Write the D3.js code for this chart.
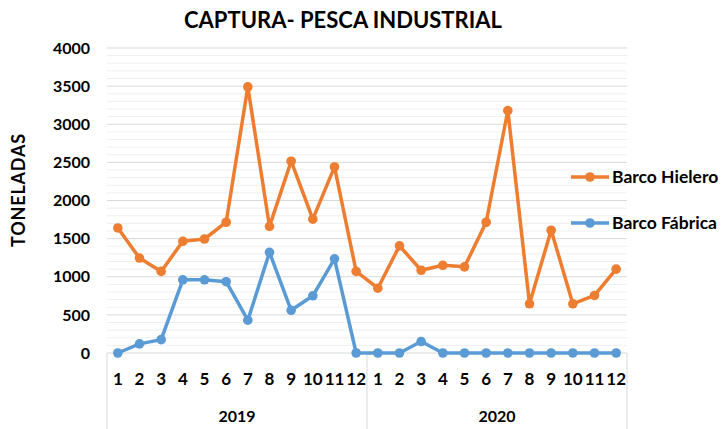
<!DOCTYPE html>
<html><head><meta charset="utf-8">
<script src="https://cdn.jsdelivr.net/npm/d3@7"></script>
<style>body{margin:0;background:#fff}svg{display:block}text{font-family:Lato,"Open Sans",sans-serif}</style>
</head><body><svg id="c" width="725" height="429"></svg>
<script>
const years = ["2019", "2020"];
const months = ["1","2","3","4","5","6","7","8","9","10","11","12"];
const hielero = [1640,1245,1070,1465,1495,1715,3490,1660,2515,1755,2440,1070,
                 850,1405,1085,1150,1130,1715,3180,645,1610,645,755,1100];
const fabrica = [0,120,175,960,960,935,430,1320,560,750,1235,0,
                 0,0,150,0,0,0,0,0,0,0,0,0];
const yTicks = [0,500,1000,1500,2000,2500,3000,3500,4000];

const svg = d3.select("#c");
const L = 107, R = 627, T = 48, B = 353;
const cats = [];
years.forEach(y => months.forEach(m => cats.push(y + "-" + m)));
const x = d3.scaleBand().domain(cats).range([L, R]);
const y = d3.scaleLinear().domain([0, 4000]).range([B, T]);

// minor gridlines
svg.append("g").selectAll("line").data(d3.range(0, 4001, 100).filter(v => v % 500 !== 0))
  .join("line").attr("x1", L).attr("x2", R).attr("y1", d => y(d)).attr("y2", d => y(d))
  .attr("stroke", "#efefef").attr("stroke-width", 1);
// major gridlines
svg.append("g").selectAll("line").data(yTicks.slice(1))
  .join("line").attr("x1", L).attr("x2", R).attr("y1", d => y(d)).attr("y2", d => y(d))
  .attr("stroke", "#d9d9d9").attr("stroke-width", 1);

// y axis
const ya = svg.append("g").attr("transform", `translate(${L},0)`)
  .call(d3.axisLeft(y).tickValues(yTicks).tickSize(0).tickPadding(17).tickFormat(d3.format("d")));
ya.select(".domain").remove();
ya.selectAll("text").attr("font-size", 16).attr("font-weight", "bold").attr("fill", "#000")
  .style("font-family", "Lato, sans-serif");

// x axis line and category separators
svg.append("line").attr("x1", L).attr("x2", R).attr("y1", B).attr("y2", B)
  .attr("stroke", "#d9d9d9");
const sepX = [L, x(years[1] + "-1"), R];
svg.append("g").selectAll("line").data(sepX).join("line")
  .attr("x1", d => d).attr("x2", d => d).attr("y1", B).attr("y2", 429)
  .attr("stroke", "#d9d9d9");

// month labels
const xa = svg.append("g").attr("transform", `translate(0,${B})`)
  .call(d3.axisBottom(x).tickSize(0).tickPadding(20).tickFormat(d => d.split("-")[1]));
xa.select(".domain").remove();
xa.selectAll("text").attr("font-size", 17).attr("font-weight", "bold").attr("fill", "#000")
  .style("font-family", "Lato, sans-serif");

// year labels
svg.append("g").selectAll("text").data(years).join("text")
  .attr("x", (d, i) => (sepX[i] + sepX[i + 1]) / 2).attr("y", 422)
  .attr("text-anchor", "middle").attr("font-size", 16).attr("font-weight", "bold")
  .text(d => d);

// series
const series = [
  {name: "Barco Hielero", values: hielero, color: "#ED7D31", ly: 177},
  {name: "Barco Fábrica", values: fabrica, color: "#5B9BD5", ly: 223}
];
const line = d3.line().x((d, i) => x(cats[i]) + x.bandwidth() / 2).y(d => y(d));
series.forEach(s => {
  svg.append("path").datum(s.values).attr("d", line).attr("fill", "none")
    .attr("stroke", s.color).attr("stroke-width", 3.5).attr("stroke-linejoin", "round");
  svg.append("g").selectAll("circle").data(s.values).join("circle")
    .attr("cx", (d, i) => x(cats[i]) + x.bandwidth() / 2).attr("cy", d => y(d))
    .attr("r", 4.8).attr("fill", s.color);
  // legend
  svg.append("line").attr("x1", 571).attr("x2", 609).attr("y1", s.ly).attr("y2", s.ly)
    .attr("stroke", s.color).attr("stroke-width", 3.5);
  svg.append("circle").attr("cx", 590).attr("cy", s.ly).attr("r", 4.8).attr("fill", s.color);
  svg.append("text").attr("x", 612).attr("y", s.ly + 6).attr("font-size", 17.5)
    .attr("font-weight", "bold").attr("fill", "#000").text(s.name);
});

// title
svg.append("text").attr("x", 343).attr("y", 28).attr("text-anchor", "middle")
  .attr("font-size", 22).attr("font-weight", "bold").text("CAPTURA- PESCA INDUSTRIAL");

// y title
svg.append("text").attr("transform", "translate(25,190) rotate(-90)")
  .attr("text-anchor", "middle").attr("font-size", 18).attr("font-weight", "bold")
  .attr("letter-spacing", 0.8).text("TONELADAS");
</script></body></html>
